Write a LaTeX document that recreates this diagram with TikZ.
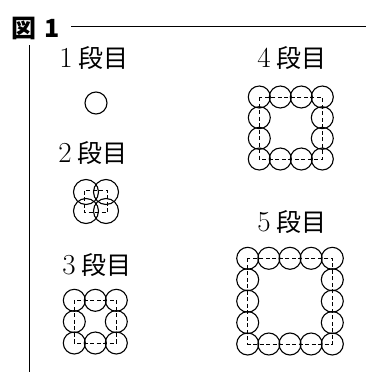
\documentclass[tikz,border=0pt]{standalone}
\usepackage{fontspec}
\newfontfamily\cjk{Noto Sans CJK JP}
\newcommand{\dannum}[1]{{\fontsize{29}{29}\selectfont #1}\hspace{6pt}{\cjk 段目}}
\tikzset{
  bead/.style={circle,draw,line width=1.1pt,minimum size=22pt,inner sep=0pt},
  bigbead/.style={bead,minimum size=25pt},
  guide/.style={dash pattern=on 4pt off 2.5pt,line width=0.9pt},
  lbl/.style={font=\fontsize{25}{25}\selectfont,inner sep=0pt},
  ttl/.style={font=\cjk\bfseries\fontsize{25}{25}\selectfont,inner sep=0pt},
  frame/.style={line width=0.9pt},
}
\begin{document}
\begin{tikzpicture}[x=1pt,y=-1pt]
\useasboundingbox (0,0) rectangle (366,372);
% title and frame
\node[ttl] (zu) at (24,28) {図};
\node[ttl] (one) at (52,28) {1};
\coordinate (ls) at (71,26);
\coordinate (le) at (366,26);
\draw[frame] (ls) -- (le);
\coordinate (vs) at (29,45);
\coordinate (ve) at (29,372);
\draw[frame] (vs) -- (ve);
% labels
\node[lbl] (l1) at (94,58) {\dannum{1}};
\node[lbl] (l2) at (93,153) {\dannum{2}};
\node[lbl] (l3) at (97,265) {\dannum{3}};
\node[lbl] (l4) at (292,58) {\dannum{4}};
\node[lbl] (l5) at (292,222) {\dannum{5}};
% 1
\node[bead] (a) at (96,103) {};
% 2
\foreach \i in {0,1}{\foreach \j in {0,1}{
  \node[bigbead] (b-\i-\j) at ({86+\i*20},{192+\j*19}) {};
}}
\draw[guide] ([shift={(-1.5,-1.5)}]b-0-0.center) rectangle ([shift={(1.5,1.5)}]b-1-1.center);
% 3
\foreach \i in {0,1,2}{
  \node[bead] (c-\i-0) at ({74.3+\i*21},300.3) {};
  \node[bead] (c-\i-2) at ({74.3+\i*21},343) {};
}
\node[bead] (c-0-1) at (74.3,321.6) {};
\node[bead] (c-2-1) at (116.3,321.6) {};
\draw[guide] (c-0-0.center) rectangle (c-2-2.center);
% 4
\foreach \i in {0,...,3}{
  \node[bead] (d-\i-0) at ({259.3+\i*21},97) {};
  \node[bead] (d-\i-3) at ({259.3+\i*21},159) {};
}
\foreach \j in {1,2}{
  \node[bead] (d-0-\j) at (259.3,{97+\j*20.67}) {};
  \node[bead] (d-3-\j) at (322.3,{97+\j*20.67}) {};
}
\draw[guide] (d-0-0.center) rectangle (d-3-3.center);
% 5
\foreach \i in {0,...,4}{
  \node[bead] (e-\i-0) at ({247.7+\i*21.15},258.3) {};
  \node[bead] (e-\i-4) at ({247.7+\i*21.15},344) {};
}
\foreach \j in {1,2,3}{
  \node[bead] (e-0-\j) at (247.7,{258.3+\j*21.43}) {};
  \node[bead] (e-4-\j) at (332.3,{258.3+\j*21.43}) {};
}
\draw[guide] (e-0-0.center) rectangle (e-4-4.center);
\end{tikzpicture}
\end{document}
